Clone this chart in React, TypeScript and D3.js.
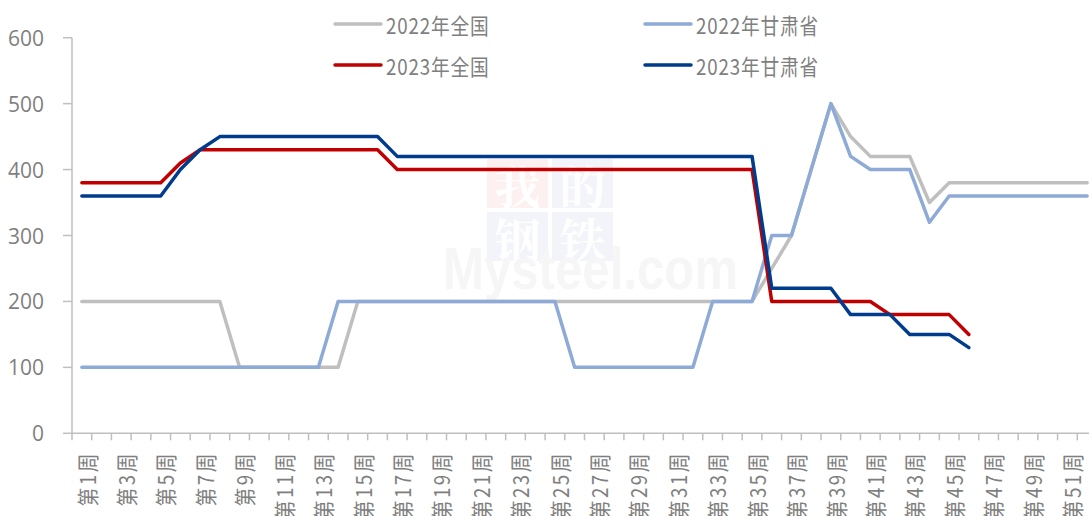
import * as d3 from 'd3';

const WEEKS = d3.range(1, 53);
const Y_TICKS = [0, 100, 200, 300, 400, 500, 600];

// 2022 national / Gansu, 2023 national / Gansu (one value per week)
const NATIONAL_2022 = [
  200, 200, 200, 200, 200, 200, 200, 200, 100, 100, 100, 100, 100, 100, 200, 200, 200, 200,
  200, 200, 200, 200, 200, 200, 200, 200, 200, 200, 200, 200, 200, 200, 200, 200, 200, 250,
  300, 400, 500, 450, 420, 420, 420, 350, 380, 380, 380, 380, 380, 380, 380, 380,
];
const GANSU_2022 = [
  100, 100, 100, 100, 100, 100, 100, 100, 100, 100, 100, 100, 100, 200, 200, 200, 200, 200,
  200, 200, 200, 200, 200, 200, 200, 100, 100, 100, 100, 100, 100, 100, 200, 200, 200, 300,
  300, 400, 500, 420, 400, 400, 400, 320, 360, 360, 360, 360, 360, 360, 360, 360,
];
const NATIONAL_2023 = [
  380, 380, 380, 380, 380, 410, 430, 430, 430, 430, 430, 430, 430, 430, 430, 430, 400, 400,
  400, 400, 400, 400, 400, 400, 400, 400, 400, 400, 400, 400, 400, 400, 400, 400, 400, 200,
  200, 200, 200, 200, 200, 180, 180, 180, 180, 150,
];
const GANSU_2023 = [
  360, 360, 360, 360, 360, 400, 430, 450, 450, 450, 450, 450, 450, 450, 450, 450, 420, 420,
  420, 420, 420, 420, 420, 420, 420, 420, 420, 420, 420, 420, 420, 420, 420, 420, 420, 220,
  220, 220, 220, 180, 180, 180, 150, 150, 150, 130,
];

const SERIES = [
  { name: '2022年全国', values: NATIONAL_2022, color: '#bfbfbf' },
  { name: '2022年甘肃省', values: GANSU_2022, color: '#8eaad6' },
  { name: '2023年全国', values: NATIONAL_2023, color: '#c00000' },
  { name: '2023年甘肃省', values: GANSU_2023, color: '#003b8c' },
];

const W = 1089;
const H = 516;
const AXIS_COLOR = '#bfbfbf';
const TEXT_COLOR = '#7f7f7f';
const FONT = '"Noto Sans CJK SC", "Noto Sans", sans-serif';

export default function App() {
  const x = d3.scaleBand<number>().domain(WEEKS).range([72, 1097]).padding(0);
  const y = d3.scaleLinear().domain([0, 600]).range([433.3, 37.7]);
  const cx = (w: number) => (x(w) ?? 0) + x.bandwidth() / 2;

  const line = d3.line<number>()
    .x((_, i) => cx(WEEKS[i]))
    .y(v => y(v));

  const legendPos = [
    { x: 335, y: 24 }, { x: 645, y: 24 }, { x: 335, y: 65 }, { x: 645, y: 65 },
  ];

  return (
    <div style={{ position: 'absolute', left: 0, top: 0 }}>
      <svg width={W} height={H} style={{ fontFamily: FONT, display: 'block' }}>
        <rect width={W} height={H} fill="white" />

        {/* watermark */}
        <g>
          {[['我', 487, 159, '#fdf0f0'], ['的', 552, 159, '#f3f4f9'], ['钢', 487, 212, '#f3f4f9'], ['铁', 552, 212, '#f3f4f9']].map(([ch, wx, wy, c]) => (
            <g key={ch as string}>
              <rect x={wx as number} y={wy as number} width={61} height={49} fill={c as string} />
              <text x={(wx as number) + 30.5} y={(wy as number) + 25} fontSize={46} fontWeight={700}
                fill="white" textAnchor="middle" dominantBaseline="central"
                fontFamily='"Noto Serif CJK SC", "Noto Sans CJK SC", serif'>{ch}</text>
            </g>
          ))}
          <text x={443} y={289} fontSize={60} fontWeight={700} fill="#f6f6f6"
            textLength={295} lengthAdjust="spacingAndGlyphs" fontFamily='"Liberation Sans", sans-serif'>Mysteel.com</text>
        </g>

        {/* y axis */}
        <line x1={72} x2={72} y1={y(600)} y2={y(0)} stroke={AXIS_COLOR} strokeWidth={1.5} />
        {Y_TICKS.map(t => (
          <g key={t}>
            <line x1={63} x2={72} y1={y(t)} y2={y(t)} stroke={AXIS_COLOR} strokeWidth={1.5} />
            <text x={44} y={y(t)} fontSize={21} fill={TEXT_COLOR} textAnchor="end"
              dominantBaseline="central" fontFamily='"Open Sans", "Noto Sans", sans-serif'>{t}</text>
          </g>
        ))}

        {/* x axis */}
        <line x1={72} x2={W} y1={y(0)} y2={y(0)} stroke={AXIS_COLOR} strokeWidth={1.5} />
        {WEEKS.map(w => (
          <line key={w} x1={x(w)} x2={x(w)} y1={y(0)} y2={y(0) + 7} stroke={AXIS_COLOR} strokeWidth={1.5} />
        ))}
        {WEEKS.filter(w => w % 2 === 1).map(w => (
          <text key={w} transform={`translate(${cx(w) + 4},451) rotate(-90) scale(0.85,1)`}
            fontSize={22} fill={TEXT_COLOR} textAnchor="end" dominantBaseline="central"
            letterSpacing={3}>{`第${w}周`}</text>
        ))}

        {/* lines */}
        {SERIES.map(s => (
          <path key={s.name} d={line(s.values) ?? ''} fill="none" stroke={s.color}
            strokeWidth={3.5} strokeLinejoin="round" strokeLinecap="round" />
        ))}

        {/* legend */}
        {SERIES.map((s, i) => (
          <g key={s.name} transform={`translate(${legendPos[i].x},${legendPos[i].y})`}>
            <line x1={0} x2={46} y1={0} y2={0} stroke={s.color} strokeWidth={3.5} strokeLinecap="round" />
            <text transform="translate(51,0) scale(0.85,1)" fontSize={22} fill={TEXT_COLOR}
              dominantBaseline="central" letterSpacing={1}>{s.name}</text>
          </g>
        ))}
      </svg>
    </div>
  );
}
